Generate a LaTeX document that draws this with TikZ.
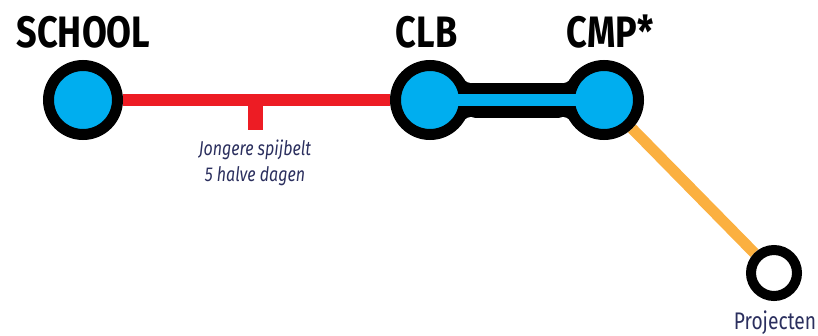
\documentclass[tikz,border=0pt]{standalone}
\usepackage{fontspec}
\newfontfamily\titlefont[FakeStretch=0.82]{Fira Sans}
\newfontfamily\labelfont[FakeStretch=0.8]{Fira Sans}
\definecolor{stblue}{HTML}{00AEEF}
\definecolor{stred}{HTML}{ED1C24}
\definecolor{storange}{HTML}{FBB040}
\definecolor{stnavy}{HTML}{2B2F5E}
\pgfdeclarelayer{bg}
\pgfsetlayers{bg,main}
\tikzset{
  station/.style={circle, draw=black, line width=11pt, fill=stblue, minimum size=69pt, inner sep=0pt},
  endstation/.style={circle, draw=black, line width=10pt, fill=white, minimum size=46pt, inner sep=0pt},
  title/.style={font=\titlefont\bfseries\fontsize{44}{44}\selectfont, text=black, anchor=base, inner sep=0pt},
  lbl/.style={font=\labelfont\itshape\fontsize{20}{20}\selectfont, text=stnavy, anchor=base, inner sep=0pt},
  redline/.style={draw=stred, line width=12pt},
  orangeline/.style={draw=storange, line width=11pt},
  tube/.style={draw=black, line width=35pt},
  tubecore/.style={draw=stblue, line width=12pt},
}
\begin{document}
\begin{tikzpicture}[x=1pt,y=-1pt]
\useasboundingbox (0,0) rectangle (818,335);
% stations
\node[station] (school) at (83,100) {};
\node[station] (clb) at (430,100) {};
\node[station] (cmp) at (604,100) {};
\node[endstation] (proj) at (774,273) {};
% titles
\node[title] (tschool) at (83.5,47) {SCHOOL};
\node[title] (tclb) at (426.5,47) {CLB};
\node[title] (tcmp) at (610,47) {CMP*};
% tick
\coordinate (tick) at (255,99);
\coordinate (tickend) at (255,130);
\begin{pgfonlayer}{bg}
  \draw[redline] (school) -- (clb);
  \draw[stred, line width=15pt] (tick) -- (tickend);
  \draw[tube] (clb) -- (cmp);
  % fillets
  \foreach \sx/\sy in {1/1,-1/1,1/-1,-1/-1}{
    \begin{scope}[shift={(517,100)}, xscale=\sx, yscale=\sy]
      \fill[black] (-87,0) -- (-52.8,-20.8) -- (-46,-17) -- (-46,0) -- cycle;
      \fill[white] (-46,-25) circle[radius=8];
    \end{scope}
  }
  \draw[orangeline] (cmp) -- (proj);
\end{pgfonlayer}
\draw[tubecore] (clb.center) -- (cmp.center);
% labels
\node[lbl] (ljong1) at (255,155) {Jongere spijbelt};
\node[lbl] (ljong2) at (255,181) {5 halve dagen};
\node[lbl, font=\labelfont\fontsize{24}{24}\selectfont] (lproj) at (775,329) {Projecten};
\end{tikzpicture}
\end{document}
